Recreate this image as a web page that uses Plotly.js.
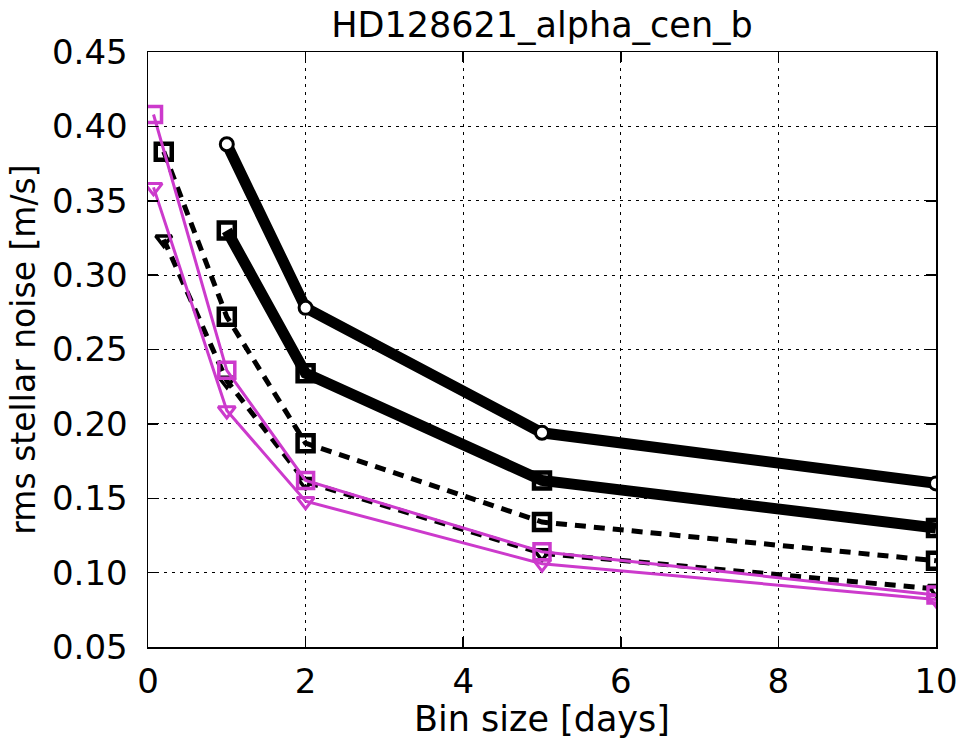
<!DOCTYPE html>
<html>
<head>
<meta charset="utf-8">
<script src="https://cdn.plot.ly/plotly-3.0.1.min.js"></script>
<style>html,body{margin:0;padding:0;background:#fff;}#plot{width:961px;height:739px;}</style>
</head>
<body>
<div id="plot"></div>
<script>
// Bin sizes [days]
const binsThick = [1, 2, 5, 10];
const binsDashed = [0.2, 1, 2, 5, 10];
const binsMagenta = [0.07, 1, 2, 5, 10];

// rms stellar noise [m/s]
const thickCircle = [0.388, 0.278, 0.194, 0.160];
const thickSquare = [0.330, 0.234, 0.162, 0.130];
const dashedSquare = [0.383, 0.272, 0.187, 0.134, 0.108];
const dashedTriangle = [0.324, 0.229, 0.161, 0.113, 0.089];
const magentaSquare = [0.408, 0.236, 0.162, 0.114, 0.085];
const magentaTriangle = [0.359, 0.209, 0.148, 0.106, 0.082];

const xTicks = [0, 2, 4, 6, 8, 10];
const yTicks = [0.05, 0.10, 0.15, 0.20, 0.25, 0.30, 0.35, 0.40, 0.45];

const MAG = '#cc3acc';
const FONT = 'DejaVu Sans, sans-serif';

const traces = [
  {x: binsThick, y: thickCircle, mode: 'lines+markers',
   line: {color: '#000', width: 11},
   marker: {symbol: 'circle', size: 13, color: '#fff', line: {color: '#000', width: 3}}},
  {x: binsThick, y: thickSquare, mode: 'lines+markers',
   line: {color: '#000', width: 11},
   marker: {symbol: 'square-open', size: 16, color: '#000', line: {color: '#000', width: 4.5}}},
  {x: binsDashed, y: dashedSquare, mode: 'lines+markers',
   line: {color: '#000', width: 5, dash: '11px,8px'},
   marker: {symbol: 'square-open', size: 16, color: '#000', line: {color: '#000', width: 4.5}}},
  {x: binsDashed, y: dashedTriangle, mode: 'lines+markers',
   line: {color: '#000', width: 5, dash: '11px,8px'},
   marker: {symbol: 'triangle-down-open', size: 14, color: '#000', line: {color: '#000', width: 3.5}}},
  {x: binsMagenta, y: magentaSquare, mode: 'lines+markers',
   line: {color: MAG, width: 3},
   marker: {symbol: 'square-open', size: 16, color: MAG, line: {color: MAG, width: 3.5}}},
  {x: binsMagenta, y: magentaTriangle, mode: 'lines+markers',
   line: {color: MAG, width: 3},
   marker: {symbol: 'triangle-down-open', size: 15, color: MAG, line: {color: MAG, width: 3}}}
];

const axisCommon = {
  showline: true, linecolor: '#000', linewidth: 1.5, mirror: 'allticks',
  ticks: 'inside', ticklen: 10, tickwidth: 1.5, tickcolor: '#000',
  showgrid: true, gridcolor: '#000', gridwidth: 1, griddash: '3px,5px',
  zeroline: false, tickfont: {family: FONT, size: 34, color: '#000'}
};

const layout = {
  width: 961, height: 739,
  paper_bgcolor: '#fff', plot_bgcolor: '#fff',
  showlegend: false,
  margin: {l: 148, r: 25, t: 52, b: 92},
  title: {text: 'HD128621_alpha_cen_b', font: {family: FONT, size: 35, color: '#000'},
          xref: 'paper', x: 0.5, xanchor: 'center', yref: 'container', y: 0.966, yanchor: 'middle'},
  xaxis: Object.assign({}, axisCommon, {
    range: [0, 10], tickvals: xTicks, ticktext: xTicks.map(String),
    ticklabelstandoff: 4,
    title: {text: 'Bin size [days]', font: {family: FONT, size: 35, color: '#000'}, standoff: 0}
  }),
  yaxis: Object.assign({}, axisCommon, {
    range: [0.05, 0.45], tickvals: yTicks, ticktext: yTicks.map(v => v.toFixed(2)),
    ticklabelstandoff: 12,
    title: {text: 'rms stellar noise [m/s]', font: {family: FONT, size: 33, color: '#000'}, standoff: 6}
  })
};

Plotly.newPlot('plot', traces, layout, {displayModeBar: false, staticPlot: true});
</script>
</body>
</html>
